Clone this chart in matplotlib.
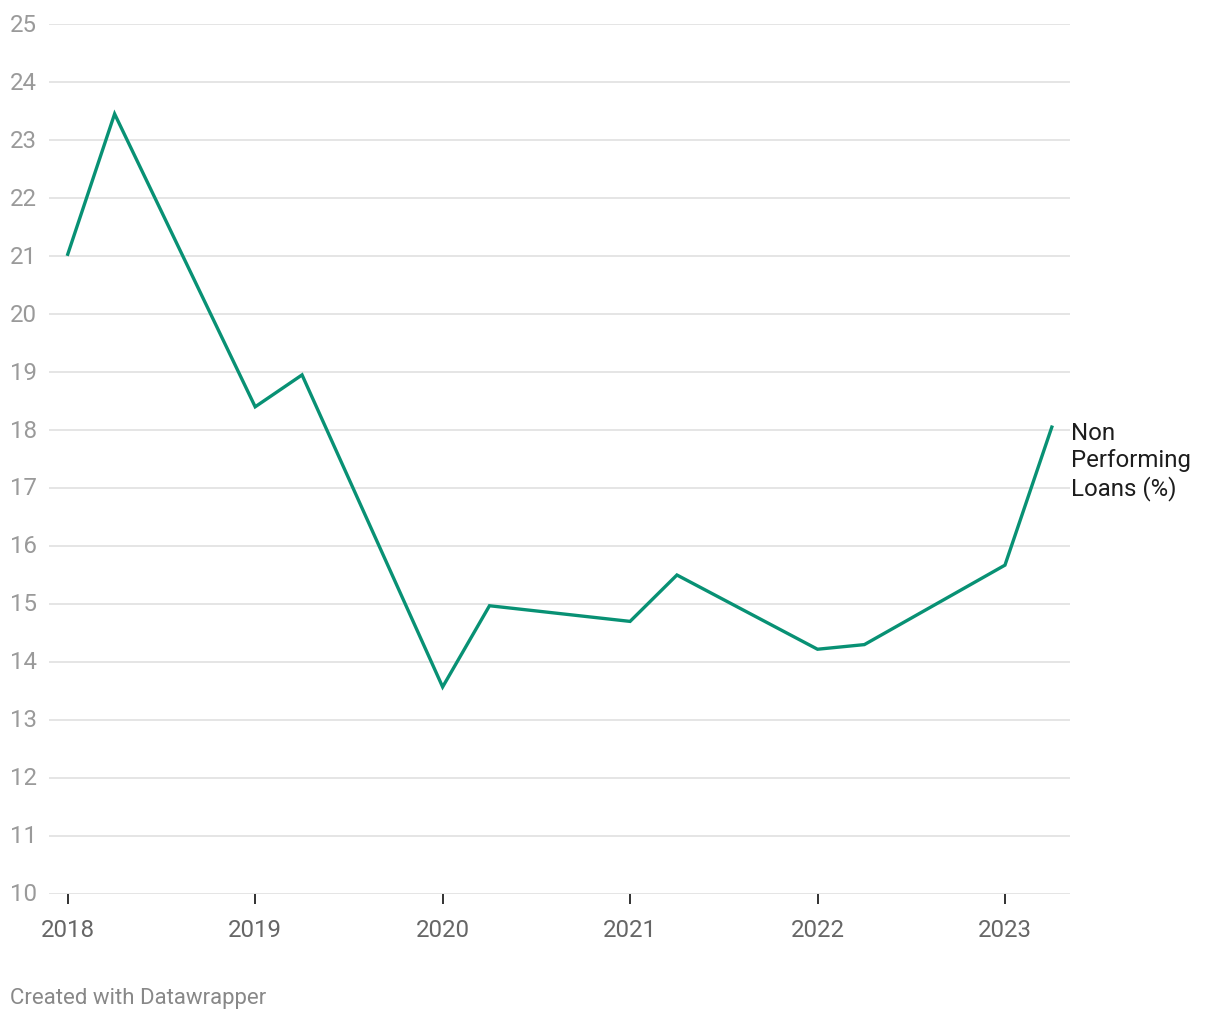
import matplotlib.pyplot as plt
import matplotlib.transforms as mtransforms

plt.rcParams['font.family'] = ['Roboto', 'DejaVu Sans']

# quarterly observations (decimal year)
dates = [2018.0, 2018.25, 2019.0, 2019.25, 2020.0, 2020.25,
         2021.0, 2021.25, 2022.0, 2022.25, 2023.0, 2023.25]
npl = [21.03, 23.45, 18.4, 18.95, 13.57, 14.97,
       14.7, 15.5, 14.22, 14.3, 15.67, 18.05]
year_ticks = [2018, 2019, 2020, 2021, 2022, 2023]
y_ticks = list(range(10, 26))
series_label = "Non\nPerforming\nLoans (%)"

fig = plt.figure(figsize=(12.2, 10.2), dpi=100)
ax = fig.add_axes([49 / 1220, 1 - 895 / 1020, (1070 - 49) / 1220, (895 - 25) / 1020])

ax.set_xlim(2017.9, 2023.347)
ax.set_ylim(10, 25)

for y in y_ticks:
    ax.axhline(y, color='#e3e3e3', lw=1.3, zorder=1)

ax.plot(dates, npl, color='#089174', lw=2.4, solid_joinstyle='miter', zorder=3)

# y labels, left aligned at the figure edge
trans = mtransforms.blended_transform_factory(fig.transFigure, ax.transData)
for y in y_ticks:
    ax.text(10 / 1220, y, str(y), transform=trans, ha='left', va='center',
            fontsize=17.3, color='#9a9a9a')
ax.set_yticks([])

ax.set_xticks(year_ticks)
ax.set_xticklabels([str(t) for t in year_ticks], fontsize=17.3, color='#666666')
ax.tick_params(axis='x', length=7, width=1.3, color='#222222', pad=10)

for s in ax.spines.values():
    s.set_visible(False)

ax.text(dates[-1] + 0.1, npl[-1] + 0.1, series_label, ha='left', va='top',
        fontsize=17.3, color='#1d1d1d', linespacing=1.22)

fig.text(10 / 1220, 1 - 999 / 1020, "Created with Datawrapper", ha='left',
         va='center', fontsize=16, color='#888888')

fig.savefig('out.png', dpi=100, facecolor='white')
